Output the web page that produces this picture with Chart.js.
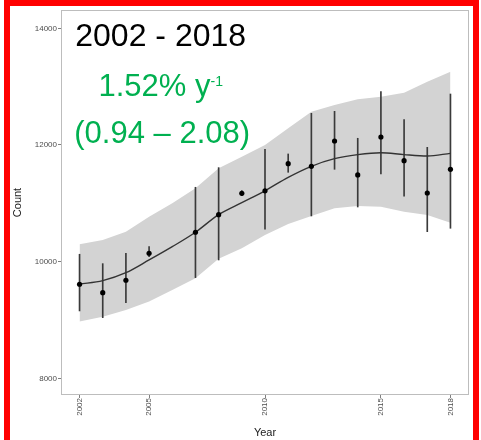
<!DOCTYPE html>
<html>
<head>
<meta charset="utf-8">
<title>Count by year, 2002 - 2018</title>
<script src="https://cdn.jsdelivr.net/npm/chart.js@4/dist/chart.umd.min.js"></script>
<style>
    html, body { margin: 0; padding: 0; background: #fff; }
    canvas { display: block; }
</style>
</head>
<body>
<canvas id="trendChart" width="481" height="440"></canvas>
<script>
// Data
const years     = [2002, 2003, 2004, 2005, 2006, 2007, 2008, 2009, 2010, 2011, 2012, 2013, 2014, 2015, 2016, 2017, 2018];
const counts    = [9613, 9469, 9681, 10144, null, 10504, 10806, 11172, 11215, 11680, 11635, 12068, 11486, 12137, 11731, 11177, 11583];
const errLow    = [9155, 9040, 9298, 10086, null, 9726, 10029, 11131, 10555, 11532, 10783, 11583, 10937, 11503, 11121, 10514, 10572];
const errHigh   = [10127, 9966, 10144, 10257, null, 11275, 11612, 11217, 11926, 11846, 12543, 12577, 12115, 12914, 12434, 11960, 12874];
const fitLine   = [9615, 9675, 9811, 10029, 10257, 10504, 10806, 11012, 11215, 11446, 11635, 11765, 11834, 11868, 11834, 11811, 11857];
const bandUpper = [10298, 10372, 10514, 10771, 11000, 11258, 11600, 11800, 12000, 12286, 12571, 12686, 12783, 12828, 12897, 13085, 13256];
const bandLower = [8972, 9057, 9172, 9315, 9515, 9715, 10050, 10229, 10457, 10646, 10783, 10915, 10954, 10943, 10857, 10800, 10668];
const xTicks    = [2002, 2005, 2010, 2015, 2018];
const yTicks    = [8000, 10000, 12000, 14000];

const titleText = '2002 - 2018';
const rateText  = '1.52% y';
const rateSup   = '-1';
const ciText    = '(0.94 \u2013 2.08)';

const FONT = "'Liberation Sans', Arial, sans-serif";
const GREEN = '#00b050';

const pts = (vals) => years.map((x, i) => ({ x: x, y: vals[i] })).filter(p => p.y !== null);

// Panel frame, annotation text and the red outer frame
const decorPlugin = {
    id: 'decor',
    afterDraw(chart) {
        const ctx = chart.ctx;
        const a = chart.chartArea;
        const xs = chart.scales.x;
        const ys = chart.scales.y;

        ctx.save();
        ctx.strokeStyle = '#bdbdbd';
        ctx.lineWidth = 1;
        ctx.strokeRect(a.left + 0.5, a.top + 0.5, a.right - a.left - 1, a.bottom - a.top - 1);

        const cx = xs.getPixelForValue(2005.5);
        ctx.textBaseline = 'alphabetic';

        ctx.fillStyle = '#000';
        ctx.font = '32px ' + FONT;
        ctx.textAlign = 'center';
        ctx.fillText(titleText, cx, ys.getPixelForValue(13697));

        ctx.fillStyle = GREEN;
        ctx.font = '31px ' + FONT;
        const w1 = ctx.measureText(rateText).width;
        ctx.font = '14px ' + FONT;
        const w2 = ctx.measureText(rateSup).width;
        const start = cx - (w1 + w2) / 2;
        const base2 = ys.getPixelForValue(12840);
        ctx.textAlign = 'left';
        ctx.font = '31px ' + FONT;
        ctx.fillText(rateText, start, base2);
        ctx.font = '14px ' + FONT;
        ctx.fillText(rateSup, start + w1, base2 - 10);

        ctx.font = '31px ' + FONT;
        ctx.textAlign = 'center';
        ctx.fillText(ciText, cx + 1.5, ys.getPixelForValue(12034));

        ctx.strokeStyle = '#ff0000';
        ctx.lineWidth = 6;
        ctx.beginPath();
        ctx.moveTo(7, 460);
        ctx.lineTo(7, 3);
        ctx.lineTo(476, 3);
        ctx.lineTo(476, 460);
        ctx.stroke();
        ctx.restore();
    }
};

const tickFont = { family: FONT, size: 8 };

new Chart(document.getElementById('trendChart').getContext('2d'), {
    type: 'line',
    data: {
        datasets: [
            {
                type: 'scatter',
                label: 'Count',
                data: pts(counts),
                backgroundColor: '#000',
                borderColor: '#000',
                pointRadius: 2.6,
                pointBorderWidth: 0,
                showLine: false,
                order: 0
            },
            {
                type: 'line',
                label: 'Fit',
                data: pts(fitLine),
                borderColor: '#333',
                borderWidth: 1.4,
                pointRadius: 0,
                tension: 0.4,
                cubicInterpolationMode: 'monotone',
                fill: false,
                order: 1
            },
            {
                type: 'bar',
                label: 'Range',
                data: years.map((x, i) => ({ x: x, y: [errLow[i], errHigh[i]] })).filter(p => p.y[0] !== null),
                backgroundColor: '#3a3a3a',
                borderWidth: 0,
                barThickness: 1,
                order: 2
            },
            {
                type: 'line',
                label: 'Upper',
                data: pts(bandUpper),
                borderWidth: 0,
                borderColor: 'rgba(0,0,0,0)',
                backgroundColor: '#d3d3d3',
                pointRadius: 0,
                tension: 0,
                fill: '+1',
                order: 3
            },
            {
                type: 'line',
                label: 'Lower',
                data: pts(bandLower),
                borderWidth: 0,
                borderColor: 'rgba(0,0,0,0)',
                pointRadius: 0,
                tension: 0,
                fill: false,
                order: 4
            }
        ]
    },
    options: {
        responsive: false,
        animation: false,
        devicePixelRatio: 1,
        layout: {
            padding: { top: 10, right: 12, left: 0, bottom: 0 }
        },
        plugins: {
            legend: { display: false },
            tooltip: { enabled: false }
        },
        scales: {
            x: {
                type: 'linear',
                min: 2001.2,
                max: 2018.8,
                offset: false,
                afterBuildTicks: (scale) => { scale.ticks = xTicks.map(v => ({ value: v })); },
                afterFit: (scale) => { scale.height = 45; },
                ticks: {
                    autoSkip: false,
                    minRotation: 90,
                    maxRotation: 90,
                    padding: 0,
                    color: '#4d4d4d',
                    font: tickFont,
                    callback: (v) => String(v)
                },
                grid: {
                    offset: false,
                    drawOnChartArea: false,
                    drawTicks: true,
                    tickLength: 3,
                    color: '#7f7f7f'
                },
                border: { display: false },
                title: {
                    display: true,
                    text: 'Year',
                    color: '#1a1a1a',
                    font: { family: FONT, size: 11 },
                    padding: { top: 0, bottom: 0 }
                }
            },
            y: {
                type: 'linear',
                min: 7714,
                max: 14314,
                afterBuildTicks: (scale) => { scale.ticks = yTicks.map(v => ({ value: v })); },
                afterFit: (scale) => { scale.width = 61; },
                ticks: {
                    padding: 1,
                    color: '#4d4d4d',
                    font: tickFont,
                    callback: (v) => String(v)
                },
                grid: {
                    drawOnChartArea: false,
                    drawTicks: true,
                    tickLength: 3,
                    color: '#7f7f7f'
                },
                border: { display: false },
                title: {
                    display: true,
                    text: 'Count',
                    color: '#1a1a1a',
                    font: { family: FONT, size: 11 },
                    padding: { top: 11.4, bottom: 0 }
                }
            }
        }
    },
    plugins: [decorPlugin]
});
</script>
</body>
</html>
